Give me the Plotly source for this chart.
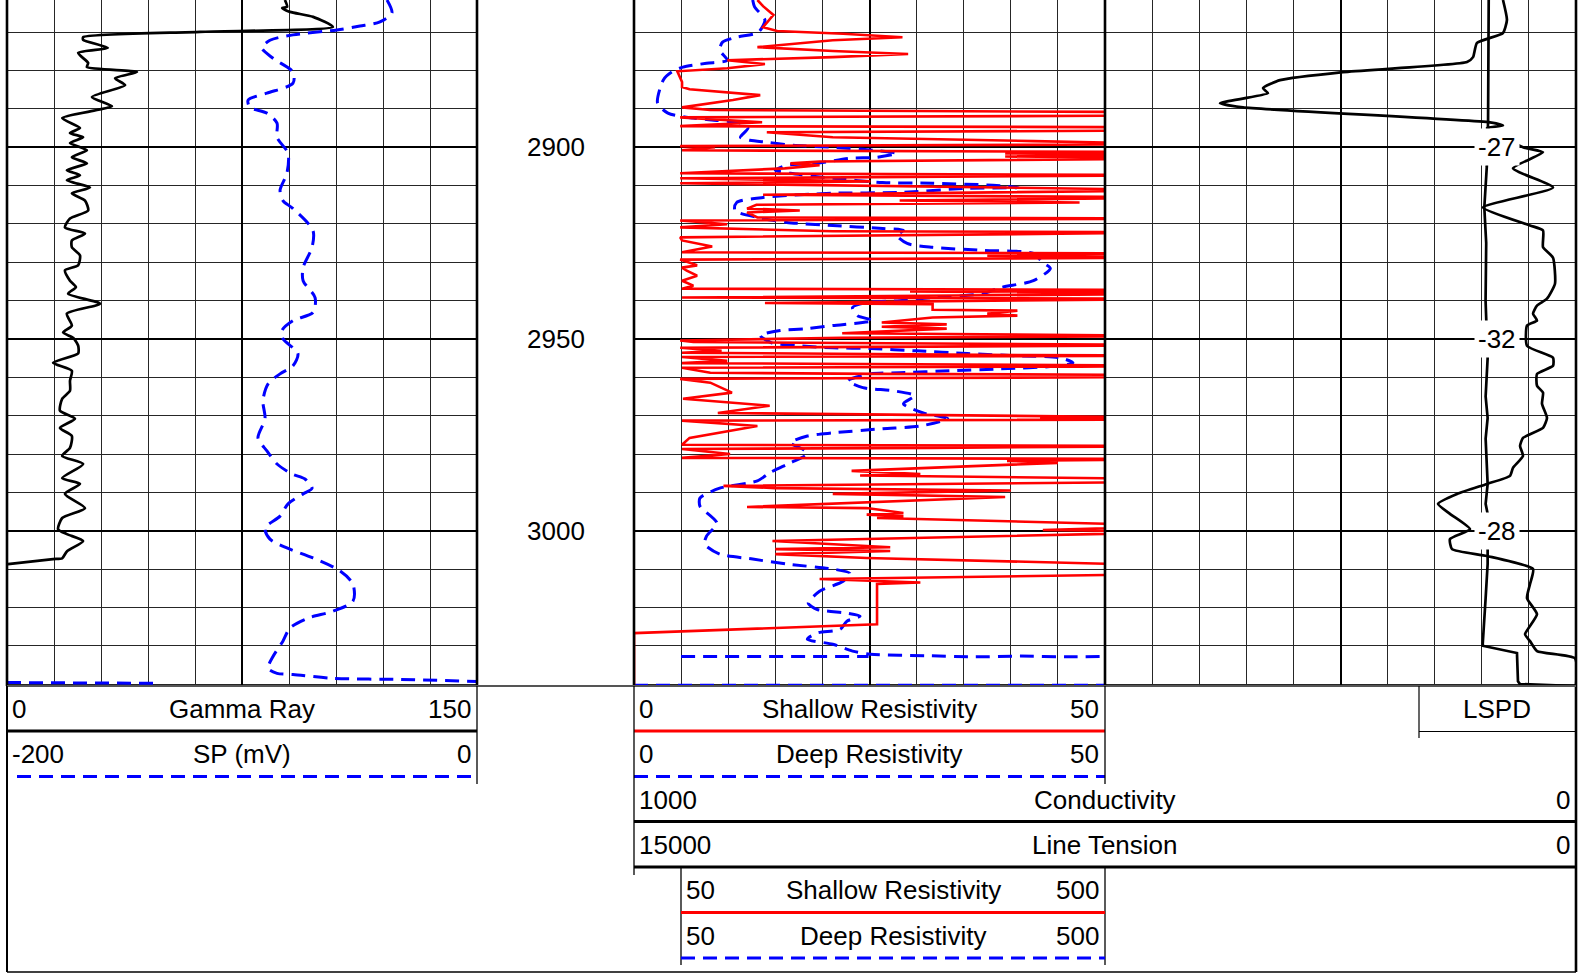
import plotly.graph_objects as go

W, H = 1592, 974

# ------------------------------------------------------------------ data
depth_range = [3040.5, 2861.6]
depth_labels = [2900, 2950, 3000]
lspd_depths = [2900, 2950, 3000]
lspd_values = [-27, -32, -28]

gr_depth = [2861.6, 2863.4, 2863.7, 2864.7, 2866.0, 2868.6, 2869.9, 2871.3, 2872.0, 2874.1,
            2875.4, 2878.0, 2879.1, 2880.4, 2882.0, 2883.8, 2886.9, 2889.3, 2890.3, 2892.4,
            2895.0, 2896.3, 2897.4, 2898.9, 2900.8, 2902.6, 2904.2, 2906.0, 2907.3, 2908.6,
            2910.5, 2912.0, 2913.9, 2916.5, 2918.6, 2920.9, 2922.5, 2924.3, 2926.1, 2928.2,
            2930.8, 2932.1, 2934.8, 2936.5, 2938.2, 2940.8, 2943.4, 2946.5, 2948.3, 2949.7,
            2951.7, 2953.8, 2956.2, 2958.3, 2960.9, 2963.5, 2965.6, 2968.7, 2970.8, 2973.2,
            2975.3, 2978.4, 2980.5, 2982.6, 2986.3, 2987.8, 2990.4, 2994.1, 2996.7, 2999.6,
            3000.9, 3002.7, 3005.4, 3007.2, 3007.4, 3008.7]
gr_api = [88.7, 89.4, 87.8, 90.3, 97.7, 104.0, 61.6, 24.3, 24.3, 32.2,
          22.7, 25.9, 25.5, 41.5, 34.5, 37.7, 27.1, 33.5, 28.7, 17.6,
          23.3, 20.1, 24.3, 20.1, 25.5, 20.7, 25.5, 19.1, 23.3, 19.1,
          26.5, 20.7, 24.9, 25.9, 20.1, 18.5, 24.9, 20.7, 20.7, 23.3,
          22.7, 18.5, 20.1, 22.0, 19.5, 29.7, 19.1, 20.7, 17.9, 21.1,
          22.7, 22.7, 14.7, 20.7, 20.1, 20.1, 17.6, 16.9, 21.7, 16.9,
          20.7, 20.1, 17.6, 24.3, 17.6, 23.3, 18.5, 24.9, 17.6, 16.3,
          19.1, 24.3, 19.1, 17.6, 14.7, 0.3]

sp_depth = [2861.6, 2865.0, 2867.3, 2868.4, 2869.4, 2870.7, 2872.1, 2874.1, 2876.8, 2880.4,
            2883.3, 2885.9, 2887.7, 2889.6, 2891.1, 2893.7, 2897.4, 2901.6, 2906.8, 2911.2,
            2913.9, 2916.0, 2921.7, 2926.1, 2931.4, 2934.8, 2939.2, 2943.1, 2945.2, 2947.8,
            2949.9, 2953.8, 2957.0, 2959.1, 2961.7, 2966.1, 2970.8, 2975.8, 2979.2, 2982.6,
            2985.2, 2986.5, 2988.9, 2990.4, 2993.0, 2996.2, 2999.3, 3002.2, 3004.5, 3007.1,
            3010.5, 3013.9, 3018.4, 3021.0, 3022.8, 3025.4, 3028.8, 3032.8, 3035.9, 3037.2,
            3037.5, 3038.5, 3038.8, 3039.3, None, 3039.6, 3039.8]
sp_mv = [-38.3, -36.2, -41.3, -49.8, -59.6, -78.3, -88.1, -91.5, -86.8, -78.3,
         -78.3, -89.4, -97.4, -96.6, -89.4, -85.1, -85.1, -80.4, -80.9, -83.8,
         -82.6, -78.3, -69.8, -70.2, -74.0, -74.0, -68.9, -69.8, -78.3, -83.0,
         -82.6, -76.2, -78.3, -83.8, -88.9, -91.1, -90.2, -93.2, -89.4, -85.1,
         -78.7, -73.2, -70.2, -74.0, -80.4, -83.8, -90.2, -88.1, -80.9, -69.8,
         -58.3, -52.8, -52.8, -61.3, -71.9, -79.6, -82.6, -86.8, -88.9, -85.1,
         -78.3, -61.3, -32.8, 0.0, None, -200.0, -136.2]

shallow_depth = [2861.6, 2863.2, 2865.5, 2867.1, 2868.7, 2869.7, 2870.4, 2871.3, 2872.1, 2873.9,
                 2874.9, 2875.7, 2876.5, 2877.3, 2878.3, 2879.4, 2880.2, 2883.0, 2884.3, 2884.9,
                 2886.4, 2887.7, 2889.6, 2890.3, 2890.9, 2891.7, 2892.2, 2893.5, 2894.5, 2894.8,
                 2895.6, 2896.1, 2897.4, 2898.4, 2899.2, 2899.7, 2900.0, 2900.8, 2901.3, 2901.6,
                 2902.1, 2902.4, 2902.9, 2903.7, 2904.2, 2904.7, 2905.5, 2906.8, 2907.3, 2908.1,
                 2908.9, 2909.4, 2911.2, 2912.4, 2913.1, 2913.9, 2914.4, 2915.0, 2916.0, 2916.5,
                 2917.0, 2918.3, 2918.6, 2919.1, 2920.1, 2920.9, 2921.9, 2922.2, 2923.0, 2923.5,
                 2924.3, 2925.9, 2927.4, 2927.7, 2928.3, 2928.8, 2929.3, 2930.8, 2931.4, 2932.2,
                 2933.5, 2934.8, 2936.1, 2936.9, 2937.2, 2937.6, 2938.2, 2939.2, 2939.5, 2940.6,
                 2940.9, 2942.4, 2942.6, 2943.4, 2943.9, 2944.4, 2945.7, 2946.2, 2946.8, 2947.3,
                 2948.5, 2949.2, 2949.7, 2950.4, 2950.8, 2951.2, 2951.6, 2952.0, 2952.3, 2953.1,
                 2953.6, 2954.2, 2954.4, 2954.7, 2955.7, 2956.3, 2957.0, 2957.2, 2957.5, 2958.8,
                 2959.1, 2959.4, 2959.9, 2960.4, 2961.4, 2964.0, 2965.6, 2967.4, 2969.3, 2970.5,
                 2970.8, 2971.0, 2971.3, 2972.7, 2975.8, 2977.6, 2977.9, 2978.4, 2978.7, 2980.0,
                 2981.0, 2981.3, 2981.8, 2982.3, 2984.4, 2985.2, 2985.6, 2986.6, 2987.2, 2988.3,
                 2988.9, 2989.5, 2990.4, 2991.2, 2993.8, 2994.1, 2995.4, 2995.8, 2996.2, 2996.7,
                 2998.8, 2999.8, 3000.3, 3002.7, 3004.3, 3004.8, 3005.3, 3006.1, 3007.1, 3009.2,
                 3011.2, 3012.6, 3013.5, 3013.9, 3024.4, 3026.7, 3040.5]
shallow_ohm = [13.1, 13.7, 14.8, 14.2, 13.7, 15.2, 22.2, 28.5, 21.1, 13.1,
               21.1, 29.1, 21.1, 9.9, 13.9, 9.9, 4.6, 5.1, 5.1, 5.9,
               13.4, 10.5, 5.1, 8.1, 60, 60, 4.9, 13.6, 4.9, 60,
               60, 14.1, 21.1, 42.4, 60, 4.9, 8.6, 5.1, 60, 39.4,
               60, 39.4, 60, 19.7, 16.6, 19.7, 16.0, 4.9, 60, 4.9,
               25.1, 4.9, 60, 13.7, 60, 28.2, 47.3, 13.0, 12.0, 17.6,
               12.0, 13.1, 60, 4.9, 9.9, 4.9, 21.1, 60, 21.1, 4.9,
               5.1, 8.3, 5.1, 60, 37.5, 60, 4.9, 6.7, 5.1, 5.6,
               6.7, 5.1, 6.3, 5.1, 60, 29.3, 60, 5.1, 60, 13.9,
               31.7, 31.7, 40.7, 37.5, 40.7, 31.7, 26.3, 33.2, 26.3, 33.2,
               22.1, 60, 22.1, 4.9, 6.3, 31.6, 60, 31.6, 4.9, 9.3,
               5.1, 42.0, 60, 5.1, 9.9, 5.1, 60, 47.3, 5.1, 8.1,
               25.4, 60, 60, 4.9, 8.1, 10.4, 5.2, 14.4, 8.9, 60,
               43.1, 60, 5.1, 13.1, 5.9, 5.1, 60, 31.7, 5.1, 10.2,
               5.1, 60, 39.6, 45.0, 23.1, 30.4, 24.0, 60, 60, 9.5,
               15.0, 40.0, 21.1, 39.4, 12.0, 24.7, 28.6, 24.7, 28.6, 25.8,
               60, 43.4, 60, 14.7, 27.2, 15.0, 27.2, 15.0, 24.7, 60,
               60, 19.7, 30.4, 25.8, 25.8, 0.0, 0.0]

deep_depth = [2861.6, 2863.4, 2866.8, 2870.0, 2871.3, 2872.6, 2874.7, 2877.3, 2878.1, 2879.1,
              2880.4, 2882.5, 2888.5, 2891.1, 2892.4, 2893.0, 2893.7, 2895.0, 2897.4, 2898.2,
              2898.7, 2899.5, 2900.0, 2900.8, 2901.6, 2902.6, 2902.9, 2904.2, 2904.7, 2906.0,
              2906.8, 2908.1, 2909.2, 2909.4, 2909.9, 2910.5, 2910.7, 2911.8, 2912.0, 2913.1,
              2914.4, 2916.5, 2918.3, 2919.6, 2920.4, 2921.2, 2921.7, 2923.0, 2925.1, 2926.1,
              2926.9, 2927.7, 2930.1, 2931.6, 2934.8, 2936.6, 2938.2, 2939.2, 2940.0, 2940.5,
              2941.8, 2943.9, 2945.2, 2946.5, 2947.3, 2947.8, 2949.1, 2951.0, 2951.8, 2952.3,
              2952.5, 2953.1, 2953.8, 2954.4, 2954.9, 2956.2, 2957.0, 2957.8, 2958.3, 2958.8,
              2959.1, 2960.9, 2962.7, 2963.5, 2964.8, 2966.9, 2969.3, 2970.8, 2972.7, 2973.4,
              2974.5, 2975.3, 2977.1, 2978.7, 2980.0, 2982.3, 2984.9, 2987.0, 2988.9, 2991.5,
              2993.6, 2998.0, 3001.4, 3003.5, 3006.1, 3007.4, 3008.7, 3010.0, 3011.1, 3013.2,
              3015.8, 3018.9, 3020.5, 3021.5, 3022.3, 3023.6, 3025.7, 3026.7, 3028.3, 3029.6,
              3031.4, 3032.2, 3032.6, 3032.9, 3032.7, 3032.9, 3032.8,
              None, 3032.8, 3032.8, None, 3040.3, 3040.3]
deep_ohm = [12.6, 12.8, 13.9, 13.2, 10.9, 9.4, 9.1, 9.9, 7.7, 5.2,
            4.0, 3.1, 2.5, 3.6, 6.3, 8.8, 11.3, 12.1, 11.3, 12.3,
            14.1, 16.9, 21.1, 25.4, 27.9, 25.8, 22.9, 19.4, 16.2, 15.0,
            16.6, 21.1, 26.4, 31.7, 38.1, 40.8, 35.4, 28.2, 21.1, 13.7,
            10.9, 10.7, 13.1, 16.2, 21.1, 26.4, 28.6, 27.9, 29.0, 31.7,
            37.0, 42.4, 43.4, 44.2, 42.4, 38.9, 37.0, 31.7, 28.2, 24.7,
            23.2, 23.7, 25.4, 21.1, 18.4, 15.5, 13.4, 14.6, 17.6, 21.1,
            25.1, 30.0, 35.4, 40.7, 45.2, 46.6, 45.2, 38.9, 33.5, 28.2,
            25.1, 22.7, 24.3, 27.5, 29.8, 28.6, 30.7, 33.3, 30.4, 26.4,
            21.1, 18.4, 16.6, 17.9, 18.4, 16.6, 14.4, 13.1, 9.1, 7.0,
            7.0, 8.8, 7.7, 7.5, 9.1, 12.6, 16.2, 21.1, 22.9, 22.2,
            19.7, 18.5, 19.4, 22.6, 24.0, 22.6, 21.9, 19.4, 18.4, 21.1,
            23.2, 25.1, 31.0, 36.0, 41.0, 46.0, 50.0,
            None, 5.0, 24.9, None, 0.0, 50.0]

cond_depth = [2861.6, 2866.8, 2870.2, 2872.8, 2876.5, 2877.8, 2880.4, 2882.5, 2884.6, 2885.9,
              2888.5, 2889.6, 2893.5, 2894.3, 2895.0, 2900.0, 2901.3, 2905.5, 2910.5, 2915.7,
              2920.4, 2921.7, 2926.1, 2928.8, 2935.6, 2939.5, 2941.3, 2943.4, 2945.2, 2946.5,
              2951.8, 2954.9, 2957.0, 2959.1, 2962.2, 2964.0, 2966.9, 2970.6, 2973.2, 2975.8,
              2977.9, 2980.5, 2983.6, 2985.7, 2987.8, 2990.4, 2993.0, 2995.6, 2999.6, 3002.2,
              3004.8, 3006.6, 3010.0, 3013.9, 3017.6, 3021.8, 3027.0, 3028.8, 3031.4, 3033.3,
              3040.5]
cond_val = [77.5, 73.3, 77.5, 105.1, 109.3, 115.7, 247.4, 314.2, 332.3, 327.0,
            377.9, 353.5, 91.3, 77.5, 94.5, 56.3, 35.0, 66.9, 24.4, 98.7,
            48.8, 35.0, 35.0, 24.4, 22.3, 30.8, 41.4, 45.6, 41.4, 52.0,
            52.0, 24.4, 24.4, 41.4, 41.4, 35.0, 36.1, 30.8, 35.0, 56.3,
            59.4, 56.3, 66.9, 70.1, 94.5, 126.3, 146.5, 133.8, 112.5, 133.8,
            131.6, 94.5, 45.6, 48.8, 52.0, 41.4, 54.1, 48.8, 41.4, 1.0,
            0.0]

tension_depth = [2861.6, 2880.0, 2893.0, 2905.0, 2915.7, 2925.0, 2940.0, 2955.0, 2965.0, 2970.6,
                 2976.0, 2987.8, 2993.0, 2995.6, 3008.7, 3017.6, 3026.0, 3030.0, 3031.9, 3039.3,
                 3040.0, 3040.5]
tension_lb = [1390, 1395, 1400, 1420, 1460, 1430, 1440, 1407, 1439, 1407,
              1439, 1407, 1439, 1407, 1407, 1439, 1471, 1487, 940, 924,
              892, 16]

# ------------------------------------------------------------------ helpers
def px(x):
    return x / W


def py(y):
    return 1 - y / H


FONT = "Liberation Sans, Arial, sans-serif"
FS = 26
TRACK_BOTTOM = 686
ydom = [py(TRACK_BOTTOM), 1]
MINOR = "#262626"
MINOR_W = 1.2
DASH = "14px,8px"
wide_dom = [px(634), px(1576)]

fig = go.Figure()

# right-hand curves (conductivity / line tension) on their own invisible axes
fig.add_trace(go.Scatter(x=cond_val, y=cond_depth, xaxis="x4", yaxis="y4", mode="lines",
                         line=dict(color="black", width=2.7, shape="spline", smoothing=0.5),
                         hoverinfo="skip"))
fig.add_trace(go.Scatter(x=tension_lb, y=tension_depth, xaxis="x6", yaxis="y4", mode="lines",
                         line=dict(color="black", width=2.7), hoverinfo="skip"))
# resistivity
fig.add_trace(go.Scatter(x=deep_ohm, y=deep_depth, xaxis="x5", yaxis="y3", mode="lines",
                         line=dict(color="#0000ff", width=3, dash=DASH, shape="spline",
                                   smoothing=0.7),
                         hoverinfo="skip"))
fig.add_trace(go.Scatter(x=shallow_ohm, y=shallow_depth, xaxis="x5", yaxis="y3", mode="lines",
                         line=dict(color="#ff0000", width=2.6), hoverinfo="skip"))
# gamma ray / sp
fig.add_trace(go.Scatter(x=sp_mv, y=sp_depth, xaxis="x2", yaxis="y5", mode="lines",
                         line=dict(color="#0000ff", width=3, dash=DASH, shape="spline",
                                   smoothing=0.8),
                         hoverinfo="skip"))
fig.add_trace(go.Scatter(x=gr_api, y=gr_depth, xaxis="x", yaxis="y", mode="lines",
                         line=dict(color="black", width=2.7, shape="spline", smoothing=0.6),
                         hoverinfo="skip"))

grid_common = dict(showticklabels=False, ticks="", zeroline=False, showline=False,
                   fixedrange=True)
ygrid = dict(range=depth_range, domain=ydom, dtick=50, tick0=2900, showgrid=True,
             gridcolor="black", gridwidth=2,
             minor=dict(dtick=10, tick0=2900, showgrid=True, gridcolor=MINOR, gridwidth=MINOR_W),
             **grid_common)
hidden_y = dict(domain=ydom, range=depth_range, visible=False, showgrid=False,
                zeroline=False, fixedrange=True)
hidden_x = dict(visible=False, showgrid=False, zeroline=False, fixedrange=True)

fig.update_layout(
    width=W, height=H, margin=dict(l=0, r=0, t=0, b=0),
    paper_bgcolor="white", plot_bgcolor="rgba(0,0,0,0)", showlegend=False,
    font=dict(family=FONT, size=FS, color="black"),
    # gamma-ray track grid
    xaxis=dict(domain=[px(7), px(477)], range=[0, 150], anchor="y", dtick=75, tick0=0,
               showgrid=True, gridcolor="black", gridwidth=2,
               minor=dict(dtick=15, showgrid=True, gridcolor=MINOR, gridwidth=MINOR_W),
               **grid_common),
    yaxis=dict(anchor="x", **ygrid),
    # SP scale
    xaxis2=dict(domain=[px(7), px(477)], range=[-200, 0], anchor="y5", **hidden_x),
    yaxis5=dict(anchor="x2", **hidden_y),
    # resistivity + right track grid
    xaxis3=dict(domain=wide_dom, range=[0, 20], anchor="y2", dtick=5, tick0=0,
                showgrid=True, gridcolor="black", gridwidth=2,
                minor=dict(dtick=1, showgrid=True, gridcolor=MINOR, gridwidth=MINOR_W),
                **grid_common),
    yaxis2=dict(anchor="x3", **ygrid),
    # conductivity / line tension scales
    xaxis4=dict(domain=wide_dom, range=[1000, 0], anchor="y4", **hidden_x),
    xaxis6=dict(domain=wide_dom, range=[15000, 0], anchor="y4", **hidden_x),
    yaxis4=dict(anchor="x4", **hidden_y),
    # resistivity scale (clipped at the track edge)
    xaxis5=dict(domain=[px(634), px(1105)], range=[0, 50], anchor="y3", **hidden_x),
    yaxis3=dict(anchor="x5", **hidden_y),
)

shapes = []


def hline(y, x0, x1, color="black", width=1.5, dash=None):
    shapes.append(dict(type="line", xref="paper", yref="paper", x0=px(x0), x1=px(x1),
                       y0=py(y), y1=py(y), line=dict(color=color, width=width, dash=dash)))


def vline(x, y0, y1, color="black", width=1.5):
    shapes.append(dict(type="line", xref="paper", yref="paper", x0=px(x), x1=px(x),
                       y0=py(y0), y1=py(y1), line=dict(color=color, width=width)))


# track borders
for xb in (7, 477, 634, 1105):
    vline(xb, 0, TRACK_BOTTOM, width=2.6)
vline(1576, 0, 972, width=2.6)
hline(TRACK_BOTTOM, 7, 1576, color="#555555", width=2)

# header: gamma ray / sp
hline(731, 7, 477, width=3)
hline(776.5, 17, 477, color="#0000ff", width=3, dash=DASH)
vline(477, TRACK_BOTTOM, 784, width=1.3)
vline(7, TRACK_BOTTOM, 972, width=2)
hline(972, 7, 1576, width=1.5)
# header: resistivity
hline(731, 634, 1105, color="#ff0000", width=3)
hline(776.5, 634, 1105, color="#0000ff", width=3, dash=DASH)
vline(1105, TRACK_BOTTOM, 784, width=1.3)
vline(634, TRACK_BOTTOM, 875, width=1.3)
hline(821.5, 634, 1576, width=3)
hline(867, 634, 1576, width=3)
vline(681, 867, 965, width=1.3)
vline(1105, 867, 965, width=1.3)
hline(912.5, 681, 1105, color="#ff0000", width=3)
hline(958, 681, 1105, color="#0000ff", width=3, dash=DASH)
# header: LSPD
vline(1419, TRACK_BOTTOM, 738, width=1.2)
hline(731.5, 1419, 1576, width=1.2)

annotations = []


def text(s, x, y, anchor="center"):
    annotations.append(dict(text=s, x=px(x), y=py(y), xref="paper", yref="paper",
                            xanchor=anchor, yanchor="middle", showarrow=False,
                            font=dict(family=FONT, size=FS, color="black")))


header_rows = [
    ("0", "Gamma Ray", "150", 7, 477, 709),
    ("-200", "SP (mV)", "0", 7, 477, 754),
    ("0", "Shallow Resistivity", "50", 634, 1105, 709),
    ("0", "Deep Resistivity", "50", 634, 1105, 754),
    ("1000", "Conductivity", "0", 634, 1576, 800),
    ("15000", "Line Tension", "0", 634, 1576, 845),
    ("50", "Shallow Resistivity", "500", 681, 1105, 890),
    ("50", "Deep Resistivity", "500", 681, 1105, 936),
]
for left, title, right, x0, x1, yc in header_rows:
    text(left, x0 + 3, yc, "left")
    text(title, (x0 + x1) / 2, yc, "center")
    text(right, x1 - 4, yc, "right")
text("LSPD", 1497, 709)

for d in depth_labels:
    annotations.append(dict(text=str(d), x=px(555.5), y=d, xref="paper", yref="y",
                            xanchor="center", yanchor="middle", showarrow=False,
                            font=dict(family=FONT, size=FS, color="black")))
for d, v in zip(lspd_depths, lspd_values):
    annotations.append(dict(text=str(v), x=px(1497), y=d, xref="paper", yref="y2",
                            xanchor="center", yanchor="middle", showarrow=False,
                            bgcolor="white", borderpad=3,
                            font=dict(family=FONT, size=FS, color="black")))

fig.update_layout(shapes=shapes, annotations=annotations)

fig.write_html("out.html", config={"displayModeBar": False},
               post_script="document.body.style.margin='0';")
